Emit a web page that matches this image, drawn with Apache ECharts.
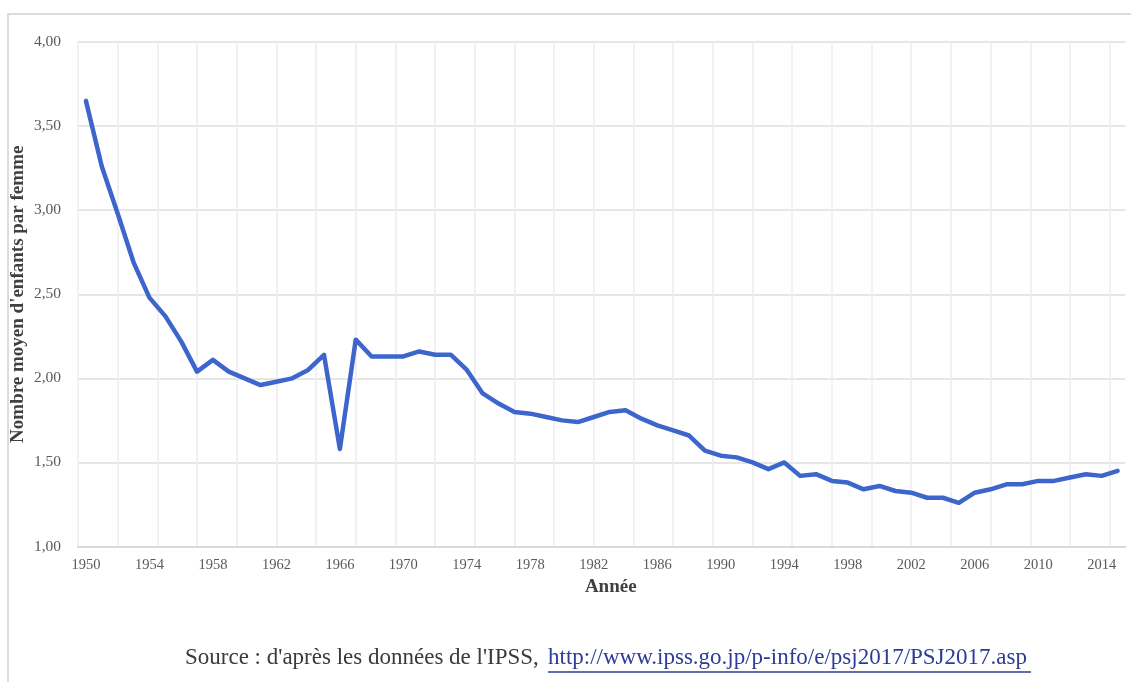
<!DOCTYPE html>
<html>
<head>
<meta charset="utf-8">
<title>Fécondité Japon</title>
<script src="https://cdn.jsdelivr.net/npm/echarts@6/dist/echarts.min.js"></script>
<style>
  html, body { margin: 0; padding: 0; background: #fff; }
  #chart { width: 1131px; height: 682px; }
</style>
</head>
<body>
<div id="chart"></div>
<script>
// indice conjoncturel de fécondité, Japon (IPSS)
const years = ['1950','1951','1952','1953','1954','1955','1956','1957','1958','1959',
  '1960','1961','1962','1963','1964','1965','1966','1967','1968','1969',
  '1970','1971','1972','1973','1974','1975','1976','1977','1978','1979',
  '1980','1981','1982','1983','1984','1985','1986','1987','1988','1989',
  '1990','1991','1992','1993','1994','1995','1996','1997','1998','1999',
  '2000','2001','2002','2003','2004','2005','2006','2007','2008','2009',
  '2010','2011','2012','2013','2014','2015'];
const fertility = [3.65, 3.26, 2.98, 2.69, 2.48, 2.37, 2.22, 2.04, 2.11, 2.04,
  2.00, 1.96, 1.98, 2.00, 2.05, 2.14, 1.58, 2.23, 2.13, 2.13,
  2.13, 2.16, 2.14, 2.14, 2.05, 1.91, 1.85, 1.80, 1.79, 1.77,
  1.75, 1.74, 1.77, 1.80, 1.81, 1.76, 1.72, 1.69, 1.66, 1.57,
  1.54, 1.53, 1.50, 1.46, 1.50, 1.42, 1.43, 1.39, 1.38, 1.34,
  1.36, 1.33, 1.32, 1.29, 1.29, 1.26, 1.32, 1.34, 1.37, 1.37,
  1.39, 1.39, 1.41, 1.43, 1.42, 1.45];
const yMin = 1, yMax = 4, yStep = 0.5;
const sourceText = "Source : d'après les données de l'IPSS, ";
const sourceLink = 'http://www.ipss.go.jp/p-info/e/psj2017/PSJ2017.asp';

const serif = '"Liberation Serif", "DejaVu Serif", serif';
let chart = echarts.init(document.getElementById('chart'));
chart.setOption({
  backgroundColor: '#ffffff',
  animation: false,
  grid: {
    left: 78,
    right: 5.5,
    top: 42,
    bottom: 135.5,
    containLabel: false,
    outerBoundsMode: 'none'
  },
  xAxis: [
    {
      type: 'category',
      data: years,
      boundaryGap: true,
      name: 'Année',
      nameLocation: 'middle',
      nameGap: 31,
      nameMoveOverlap: false,
      nameTextStyle: {
        fontFamily: serif,
        fontWeight: 'bold',
        fontSize: 19,
        color: '#404040',
        padding: [0, 0, 0, 18]
      },
      axisLine: { lineStyle: { color: '#d9d9d9', width: 2 } },
      axisTick: { show: false },
      axisLabel: {
        interval: 3,
        margin: 11,
        fontFamily: serif,
        fontSize: 14.5,
        color: '#595959'
      },
      splitLine: { show: false }
    },
    {
      // grille verticale, tous les 2,5 ans
      type: 'value',
      min: 1949.5,
      max: 2015.5,
      interval: 2.5,
      position: 'bottom',
      axisLine: { show: false },
      axisTick: { show: false },
      axisLabel: { show: false },
      splitLine: {
        show: true,
        showMaxLine: false,
        lineStyle: { color: '#ececec', width: 1.5 }
      }
    }
  ],
  yAxis: {
    type: 'value',
    min: yMin,
    max: yMax,
    interval: yStep,
    name: "Nombre moyen d'enfants par femme",
    nameLocation: 'middle',
    nameGap: 50,
    nameMoveOverlap: false,
    nameTextStyle: {
      fontFamily: serif,
      fontWeight: 'bold',
      fontSize: 19,
      color: '#404040'
    },
    axisLine: { show: false },
    axisTick: { show: false },
    axisLabel: {
      margin: 17,
      fontFamily: serif,
      fontSize: 15.5,
      color: '#595959',
      formatter: v => v.toFixed(2).replace('.', ',')
    },
    splitLine: { lineStyle: { color: '#dedede', width: 1.5 } }
  },
  series: [
    {
      name: 'Fécondité',
      type: 'line',
      xAxisIndex: 0,
      data: fertility,
      showSymbol: false,
      smooth: false,
      lineStyle: { color: '#3d66cc', width: 4.5, join: 'round', cap: 'round' }
    }
  ],
  graphic: [
    {
      // cadre
      type: 'rect',
      shape: { x: 8, y: 14, width: 1200, height: 720 },
      style: { fill: 'none', stroke: '#dcdcdc', lineWidth: 2 },
      silent: true
    },
    {
      type: 'text',
      left: 185,
      top: 646,
      style: { text: sourceText, font: '23px ' + serif, fill: '#3a3a3a' }
    },
    {
      type: 'text',
      left: 548,
      top: 646,
      style: { text: sourceLink, font: '23px ' + serif, fill: '#2c3c96' }
    },
    {
      type: 'line',
      shape: { x1: 548, y1: 672, x2: 1031, y2: 672 },
      style: { stroke: '#2c3c96', lineWidth: 1.5 }
    }
  ]
});
</script>
</body>
</html>
